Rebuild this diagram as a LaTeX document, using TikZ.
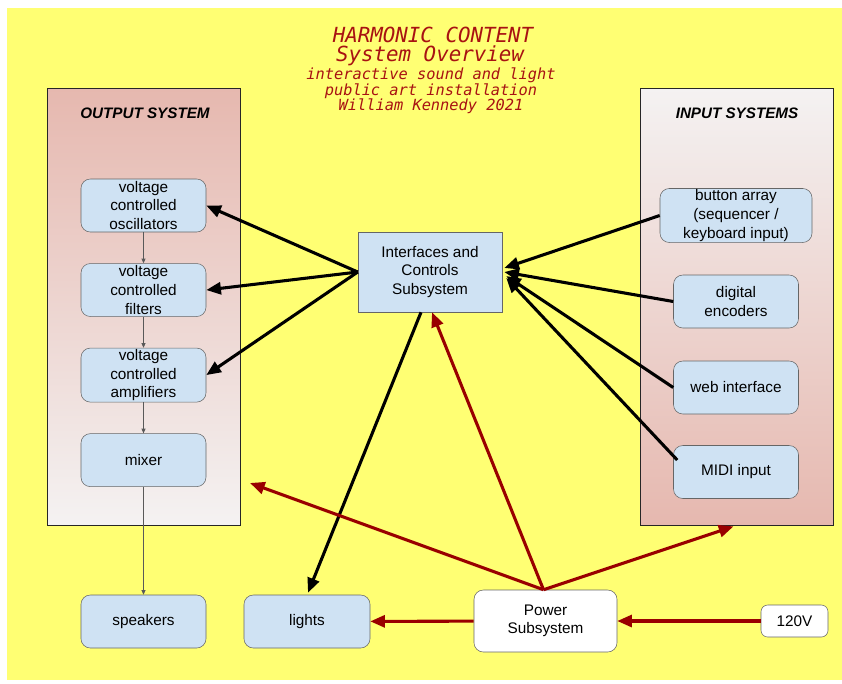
\documentclass[tikz,border=0pt]{standalone}
\usepackage{fontspec}
\setmainfont{Liberation Sans}
\newfontfamily\titlefont{DejaVu Sans Mono}
\usetikzlibrary{positioning, arrows.meta, calc}
\definecolor{bgyellow}{HTML}{FFFF73}
\definecolor{boxblue}{HTML}{CFE2F3}
\definecolor{panelpink}{HTML}{E6B8AF}
\definecolor{panelgrey}{HTML}{F4F2F2}
\definecolor{powerred}{HTML}{990000}
\definecolor{titlered}{HTML}{A81212}

\tikzset{
  block/.style={draw=black!60, fill=boxblue, rounded corners=7pt, align=center,
    minimum width=93.75pt, minimum height=39.75pt, inner sep=1pt,
    font=\fontsize{11.5}{13.9}\selectfont},
  panel/.style={draw=black!85, line width=0.6pt, minimum width=144.75pt, minimum height=327.75pt},
  paneltitle/.style={font=\fontsize{11.4}{13}\selectfont\bfseries\itshape},
  titleline/.style={text=titlered, font=\titlefont\itshape},
  signal/.style={draw=black!65, line width=0.6pt, -{Triangle[length=3.5pt,width=3pt]}},
  control/.style={draw=black, line width=2.3pt, -{Triangle[length=11pt,width=9pt]}},
  supply/.style={draw=powerred, line width=2.3pt, -{Triangle[length=11pt,width=9pt]}}
}

\begin{document}
\begin{tikzpicture}[x=0.75pt, y=-0.75pt]
    \useasboundingbox (0,0) rectangle (842,683);
    \fill[bgyellow] (7,8) rectangle (842,680);

    % title
    \node[titleline, font=\titlefont\itshape\fontsize{15.6}{16}\selectfont] (title1) at (433,35) {HARMONIC CONTENT};
    \node[titleline, font=\titlefont\itshape\fontsize{15.6}{16}\selectfont] (title2) at (430,56) {System Overview};
    \node[titleline, font=\titlefont\itshape\fontsize{11.5}{12}\selectfont] (title3) at (431,75) {interactive sound and light};
    \node[titleline, font=\titlefont\itshape\fontsize{11.5}{12}\selectfont] (title4) at (431,91) {public art installation};
    \node[titleline, font=\titlefont\itshape\fontsize{11.5}{12}\selectfont] (title5) at (431,106) {William Kennedy 2021};

    % panels
    \node[panel, top color=panelpink, bottom color=panelgrey] (outsys) at (143.5,306.5) {};
    \node[paneltitle] (outlabel) at (145,113) {OUTPUT SYSTEM};
    \node[panel, top color=panelgrey, bottom color=panelpink] (insys) at (736.5,306.5) {};
    \node[paneltitle] (inlabel) at (737,113) {INPUT SYSTEMS};

    % output chain
    \node[block] (vco) at (143.5,205.5) {voltage\\controlled\\oscillators};
    \node[block] (vcf) [below=23.25pt of vco] {voltage\\controlled\\filters};
    \node[block] (vca) [below=23.25pt of vcf] {voltage\\controlled\\amplifiers};
    \node[block] (mixer) [below=23.25pt of vca] {mixer};
    \node[block] (speakers) at (143.5,621.5) {speakers};
    \node[block, minimum width=94.5pt] (lights) at (307,621.5) {lights};

    % inputs
    \node[block, minimum width=114pt] (buttons) at (736,215.5) {button array\\(sequencer /\\keyboard input)};
    \node[block] (encoders) at (736,301.5) {digital\\encoders};
    \node[block] (web) at (736,387.5) {web interface};
    \node[block] (midi) at (736,472) {MIDI input};

    % controls and power
    \node[block, rounded corners=0pt, minimum width=108pt, minimum height=60pt] (ics) at (430,272) {Interfaces and\\Controls\\Subsystem};
    \node[block, fill=white, minimum width=107.25pt, minimum height=46.5pt] (power) at (545.5,621) {Power\\Subsystem};
    \node[block, fill=white, rounded corners=5pt, minimum width=50.25pt, minimum height=24pt] (mains) at (794.5,621) {120V};
    \coordinate (outedge) at (250,483);
    \coordinate (powertop) at ($(power.north)+(-2,0)$);

    \path
    (vco) edge[signal] (vcf)
    (vcf) edge[signal] (vca)
    (vca) edge[signal] (mixer)
    (mixer) edge[signal] (speakers);

    \path
    (ics.west) edge[control] (vco.east)
    (ics.west) edge[control] (vcf.east)
    (ics.west) edge[control] (vca.east)
    ($(ics.south)+(-9,0)$) edge[control] ($(lights.north)+(1,-2)$);

    \path
    (buttons.west) edge[control] ($(ics.east)+(2,-4)$)
    (encoders.west) edge[control] ($(ics.east)+(2,0)$)
    (web.west) edge[control] ($(ics.east)+(4,4)$)
    ($(midi.west)+(4,-12)$) edge[control] ($(ics.east)+(4,6)$);

    \path
    (powertop) edge[supply] ($(ics.south)+(2,0)$)
    (powertop) edge[supply] (outedge)
    (powertop) edge[supply] ($(insys.south)+(-3,1)$)
    (power) edge[supply] (lights)
    (mains) edge[supply] (power);
\end{tikzpicture}
\end{document}
